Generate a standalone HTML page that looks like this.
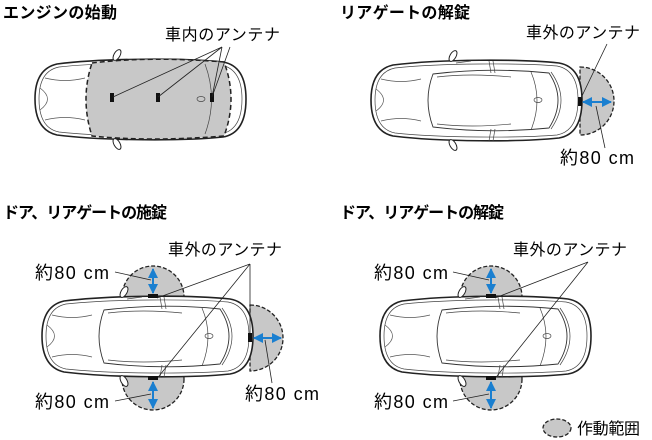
<!DOCTYPE html>
<html><head><meta charset="utf-8"><style>
body{margin:0;background:#fff}
svg{display:block;font-family:"Liberation Sans","Noto Sans CJK JP",sans-serif}
.t{font-size:16px;font-weight:bold}
.l{font-size:16px}
.m{font-size:18px;letter-spacing:1.4px}
</style></head><body>
<svg width="652" height="440" viewBox="0 0 652 440">
<defs>
<g id="car">
 <path d="M22,6 C70,0 150,0 188,4 Q211,8 211,41 Q211,75 188,79 C150,83 70,83 22,77 Q0,72 0,41 Q0,11 22,6 Z" fill="#fff" stroke="#222" stroke-width="1.6"/>
 <path d="M24,9 C70,4 150,4 186,7 Q207,11 207,41 Q207,72 186,76 C150,79 70,79 24,74 Q4,70 4,41 Q4,13 24,9 Z" fill="none" stroke="#444" stroke-width="0.7"/>
 <path d="M10,20 Q30,25 50,20 M10,62 Q30,57 50,62 M5,30 Q20,41 5,52" fill="none" stroke="#555" stroke-width="0.7"/>
 <path d="M62,15 Q120,8 178,14 Q196,41 178,69 Q120,75 62,68 Q52,41 62,15 Z" fill="none" stroke="#333" stroke-width="0.9"/>
 <path d="M66,18 Q100,14 140,18 M66,65 Q100,69 140,65 M160,13 Q172,41 160,71 M180,13 Q200,41 180,70" fill="none" stroke="#444" stroke-width="0.7"/>
 <path d="M85,4 L100,2 M118,2 L120,14 M122,2 L124,14 M118,82 L120,70 M122,82 L124,70" stroke="#444" stroke-width="0.7"/>
 <ellipse cx="82" cy="-3" rx="3" ry="6" transform="rotate(30 82 -3)" fill="#fff" stroke="#222"/>
 <ellipse cx="82" cy="86" rx="3" ry="6" transform="rotate(-30 82 86)" fill="#fff" stroke="#222"/>
 <ellipse cx="167" cy="41" rx="4" ry="2.5" fill="none" stroke="#444" stroke-width="0.7"/>
</g>
<marker id="a" viewBox="0 0 10 10" refX="9" refY="5" markerWidth="5" markerHeight="5" orient="auto-start-reverse"><path d="M0,0L10,5L0,10Z" fill="#1a7fd0"/></marker>
</defs>

<text class="t" x="3" y="18" textLength="114">エンジンの始動</text>
<text class="t" x="340" y="18" textLength="130">リアゲートの解錠</text>
<text class="t" x="3" y="218" textLength="164">ドア、リアゲートの施錠</text>
<text class="t" x="340" y="218" textLength="164">ドア、リアゲートの解錠</text>

<!-- car1 -->
<use href="#car" x="35" y="58"/>
<path d="M92,63 Q150,56 224,62 Q238,99 224,136 Q150,142 92,136 Q80,99 92,63 Z" fill="#c8c8c8" stroke="#222" stroke-width="1.5" stroke-dasharray="5,3"/>
<path d="M205,64 Q218,99 205,134" fill="none" stroke="#444" stroke-width="0.7"/>
<rect x="110" y="93" width="4" height="9" fill="#111"/>
<rect x="156" y="93" width="4" height="9" fill="#111"/>
<rect x="210" y="93" width="4" height="9" fill="#111"/>
<ellipse cx="201" cy="99" rx="4" ry="2.5" fill="none" stroke="#444" stroke-width="0.7"/>
<path d="M222,47 L113,97 M222,47 L158,97 M222,47 L212,97 M230,47 L212,97" stroke="#222" stroke-width="0.8"/>
<text class="l" x="165" y="40" textLength="115">車内のアンテナ</text>

<!-- car2 -->
<path d="M580,67 A34,34 0 0 1 580,135 Z" fill="#c8c8c8" stroke="#222" stroke-width="1.3" stroke-dasharray="4,2"/>
<use href="#car" x="371" y="59"/>
<rect x="578" y="97" width="4" height="9" fill="#111"/>
<line x1="583" y1="102" x2="611" y2="102" stroke="#1a7fd0" stroke-width="2" marker-start="url(#a)" marker-end="url(#a)"/>
<path d="M607,44 L581,98 M596,106 L605,148" stroke="#222" stroke-width="0.8"/>
<text class="l" x="526" y="38" textLength="114">車外のアンテナ</text>
<text class="m" x="560" y="164">約80 cm</text>

<!-- car3 -->
<circle cx="153" cy="297" r="31" fill="#c8c8c8" stroke="#222" stroke-width="1.3" stroke-dasharray="4,2"/>
<circle cx="153" cy="379" r="31" fill="#c8c8c8" stroke="#222" stroke-width="1.3" stroke-dasharray="4,2"/>
<path d="M250,305 A33,33 0 0 1 250,371 Z" fill="#c8c8c8" stroke="#222" stroke-width="1.3" stroke-dasharray="4,2"/>
<use href="#car" x="42" y="295"/>
<rect x="148" y="294" width="10" height="4" fill="#111"/>
<rect x="148" y="376" width="10" height="4" fill="#111"/>
<rect x="248" y="333" width="4" height="9" fill="#111"/>
<line x1="153" y1="269" x2="153" y2="293" stroke="#1a7fd0" stroke-width="2" marker-start="url(#a)" marker-end="url(#a)"/>
<line x1="153" y1="382" x2="153" y2="408" stroke="#1a7fd0" stroke-width="2" marker-start="url(#a)" marker-end="url(#a)"/>
<line x1="254" y1="338" x2="281" y2="338" stroke="#1a7fd0" stroke-width="2" marker-start="url(#a)" marker-end="url(#a)"/>
<path d="M250,264 L157,298 M250,264 L159,376 M250,264 L250,333 M115,272 L151,280 M115,401 L151,394 M272,383 L265,340" stroke="#222" stroke-width="0.8"/>
<text class="l" x="168" y="255" textLength="114">車外のアンテナ</text>
<text class="m" x="35" y="279">約80 cm</text>
<text class="m" x="35" y="408">約80 cm</text>
<text class="m" x="245" y="400">約80 cm</text>

<!-- car4 -->
<circle cx="491" cy="297" r="31" fill="#c8c8c8" stroke="#222" stroke-width="1.3" stroke-dasharray="4,2"/>
<circle cx="491" cy="379" r="31" fill="#c8c8c8" stroke="#222" stroke-width="1.3" stroke-dasharray="4,2"/>
<use href="#car" x="380" y="295"/>
<rect x="486" y="294" width="10" height="4" fill="#111"/>
<rect x="486" y="376" width="10" height="4" fill="#111"/>
<line x1="491" y1="269" x2="491" y2="293" stroke="#1a7fd0" stroke-width="2" marker-start="url(#a)" marker-end="url(#a)"/>
<line x1="491" y1="382" x2="491" y2="408" stroke="#1a7fd0" stroke-width="2" marker-start="url(#a)" marker-end="url(#a)"/>
<path d="M588,262 L495,298 M588,262 L497,376 M453,272 L489,280 M453,401 L489,394" stroke="#222" stroke-width="0.8"/>
<text class="l" x="513" y="255" textLength="114">車外のアンテナ</text>
<text class="m" x="374" y="279">約80 cm</text>
<text class="m" x="374" y="408">約80 cm</text>

<ellipse cx="557" cy="428" rx="14" ry="9" fill="#c8c8c8" stroke="#222" stroke-width="1.3" stroke-dasharray="4,2"/>
<text class="l" x="577" y="434" textLength="63">作動範囲</text>
</svg>
</body></html>
